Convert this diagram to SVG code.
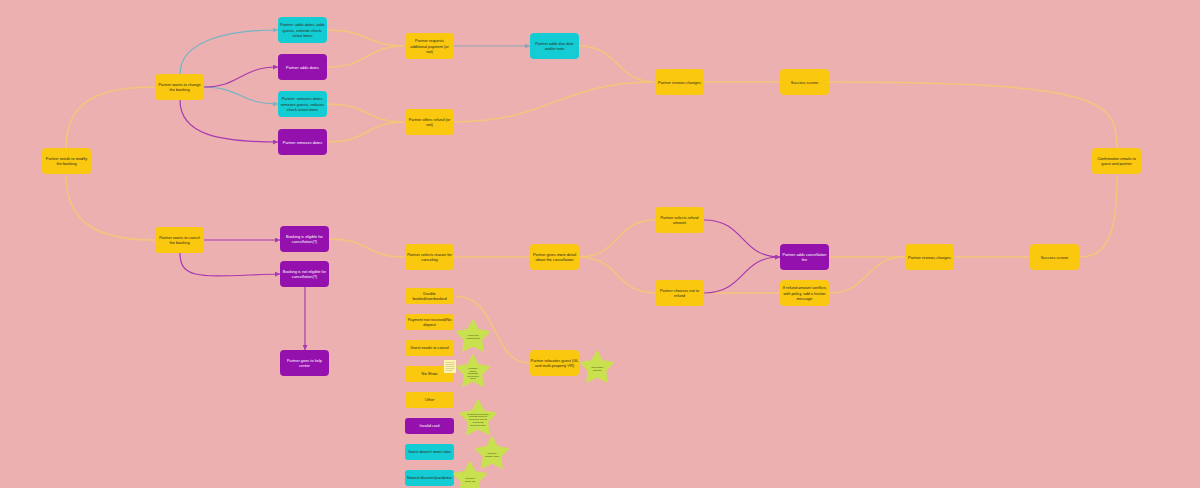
<svg xmlns="http://www.w3.org/2000/svg" width="1200" height="488" viewBox="0 0 1200 488">
  <defs>
    <style>
      .bg { fill: #EDB0B0; }
      .y rect { fill: #F9C80F; }
      .c rect { fill: #14CCD3; }
      .p rect { fill: #9511AD; }
      text { font-family: "Liberation Sans", Arial, sans-serif; font-size: 3.9px; text-anchor: middle; fill: #2a2a1a; }
      .p text { fill: #ffffff; }
      .lst text { font-size: 3.9px; }
      .st text { font-size: 2.3px; fill: #3a4a10; }
      .ly { fill: none; stroke: #F5C57A; stroke-width: 1.5; }
      .lt { fill: none; stroke: #72B4C4; stroke-width: 1.2; marker-end: url(#aT); }
      .lp { fill: none; stroke: #A53AB2; stroke-width: 1.2; marker-end: url(#aP); }
      .lg { fill: none; stroke: #8CA3BA; stroke-width: 1.2; marker-end: url(#aG); }
      .star { fill: #C9E04F; }
    </style>
    <marker id="aT" markerUnits="userSpaceOnUse" markerWidth="5" markerHeight="5" refX="5" refY="2.5" orient="auto"><path d="M0,0 L5,2.5 L0,5 z" fill="#72B4C4"/></marker>
    <marker id="aP" markerUnits="userSpaceOnUse" markerWidth="5" markerHeight="5" refX="5" refY="2.5" orient="auto"><path d="M0,0 L5,2.5 L0,5 z" fill="#A53AB2"/></marker>
    <marker id="aG" markerUnits="userSpaceOnUse" markerWidth="5" markerHeight="5" refX="5" refY="2.5" orient="auto"><path d="M0,0 L5,2.5 L0,5 z" fill="#8CA3BA"/></marker>
    <!-- five-point star, centred on the origin -->
    <path id="star" d="M0,-17 L5.2,-7.2 L16.17,-5.25 L8.4,2.7 L9.99,13.75 L0,8.8 L-9.99,13.75 L-8.4,2.7 L-16.17,-5.25 L-5.2,-7.2 Z" stroke="#C9E04F" stroke-width="1.5" stroke-linejoin="round"/>
  </defs>

  <rect class="bg" x="0" y="0" width="1200" height="488"/>

  <!-- connectors -->
  <g id="connectors">
    <path class="ly" d="M66,148 C66,100 100,87 155,87"/>
    <path class="ly" d="M66,175 C66,225 100,240 155,240"/>
    <path class="ly" d="M327,30 C370,30 365,46 405,46"/>
    <path class="ly" d="M327,67 C370,67 365,46 405,46"/>
    <path class="ly" d="M327,104 C370,104 365,122 405,122"/>
    <path class="ly" d="M327,142 C370,142 365,122 405,122"/>
    <path class="ly" d="M579,46 C620,46 615,82 655,82"/>
    <path class="ly" d="M454,122 C550,122 560,82 655,82"/>
    <path class="ly" d="M704,82 L780,82"/>
    <path class="ly" d="M829,82 C1100,82 1117,100 1117,148"/>
    <path class="ly" d="M1079,257 C1105,257 1117,240 1117,175"/>
    <path class="ly" d="M329,239 C370,239 365,257 405,257"/>
    <path class="ly" d="M454,257 L530,257"/>
    <path class="ly" d="M579,257 C620,257 615,220 655,220"/>
    <path class="ly" d="M579,257 C620,257 615,293 655,293"/>
    <path class="ly" d="M704,293 L780,293"/>
    <path class="ly" d="M829,257 L905,257"/>
    <path class="ly" d="M829,293 C870,293 865,257 905,257"/>
    <path class="ly" d="M954,257 L1030,257"/>
    <path class="ly" d="M454,296 C500,296 490,363 530,363"/>

    <path class="lt" d="M180,74 C180,40 230,30 278,30"/>
    <path class="lt" d="M204,87 C240,87 240,104 278,104"/>
    <path class="lp" d="M204,87 C240,87 240,67 278,67"/>
    <path class="lp" d="M180,100 C180,135 220,142 278,142"/>
    <path class="lp" d="M204,240 L280,240"/>
    <path class="lp" d="M180,253 C180,282 205,276 280,274"/>
    <path class="lp" d="M305,287 L305,350"/>
    <path class="lp" d="M704,220 C745,220 740,257 780,257"/>
    <path class="lp" d="M704,293 C745,293 740,257 780,257"/>
    <path class="lg" d="M454,46 L530,46"/>
  </g>

  <!-- modify branch -->
  <g id="n-modify" class="y"><rect x="42" y="148" width="49" height="26" rx="4"/><text x="66.5" y="159.9">Partner needs to modify</text><text x="66.5" y="165.1">the booking</text></g>
  <g id="n-change" class="y"><rect x="155" y="74" width="49" height="26" rx="4"/><text x="179.5" y="85.9">Partner wants to change</text><text x="179.5" y="91.1">the booking</text></g>
  <g id="n-cancel" class="y"><rect x="155" y="227" width="49" height="26" rx="4"/><text x="179.5" y="238.9">Partner wants to cancel</text><text x="179.5" y="244.1">the booking</text></g>

  <g id="n-add-all" class="c"><rect x="278" y="17" width="49" height="26" rx="4"/><text x="302.5" y="26.3">Partner: adds dates, adds</text><text x="302.5" y="31.5">guests, extends check-</text><text x="302.5" y="36.7">in/out times</text></g>
  <g id="n-add-dates" class="p"><rect x="278" y="54" width="49" height="26" rx="4"/><text x="302.5" y="68.5">Partner adds dates</text></g>
  <g id="n-remove-all" class="c"><rect x="278" y="91" width="49" height="26" rx="4"/><text x="302.5" y="100.3">Partner: removes dates,</text><text x="302.5" y="105.5">removes guests, reduces</text><text x="302.5" y="110.7">check-in/out times</text></g>
  <g id="n-remove-dates" class="p"><rect x="278" y="129" width="49" height="26" rx="4"/><text x="302.5" y="143.5">Partner removes dates</text></g>

  <g id="n-request-pay" class="y"><rect x="405" y="33" width="49" height="26" rx="4"/><text x="429.5" y="42.3">Partner requests</text><text x="429.5" y="47.5">additional payment (or</text><text x="429.5" y="52.7">not)</text></g>
  <g id="n-offer-refund" class="y"><rect x="405" y="109" width="49" height="26" rx="4"/><text x="429.5" y="120.9">Partner offers refund (or</text><text x="429.5" y="126.1">not)</text></g>
  <g id="n-due-date" class="c"><rect x="530" y="33" width="49" height="26" rx="4"/><text x="554.5" y="44.9">Partner adds due date</text><text x="554.5" y="50.1">and/or note</text></g>
  <g id="n-review-1" class="y"><rect x="655" y="69" width="49" height="26" rx="4"/><text x="679.5" y="83.5">Partner reviews changes</text></g>
  <g id="n-success-1" class="y"><rect x="780" y="69" width="49" height="26" rx="4"/><text x="804.5" y="83.5">Success screen</text></g>
  <g id="n-confirm" class="y"><rect x="1092" y="148" width="49" height="26" rx="4"/><text x="1116.5" y="159.9">Confirmation emails to</text><text x="1116.5" y="165.1">guest and partner</text></g>

  <!-- cancel branch -->
  <g id="n-eligible" class="p"><rect x="280" y="226" width="49" height="26" rx="4"/><text x="304.5" y="237.9">Booking is eligible for</text><text x="304.5" y="243.1">cancellation(?)</text></g>
  <g id="n-not-eligible" class="p"><rect x="280" y="261" width="49" height="26" rx="4"/><text x="304.5" y="272.9">Booking is not eligible for</text><text x="304.5" y="278.1">cancellation(?)</text></g>
  <g id="n-help" class="p"><rect x="280" y="350" width="49" height="26" rx="4"/><text x="304.5" y="361.9">Partner goes to help</text><text x="304.5" y="367.1">center</text></g>

  <g id="n-reason" class="y"><rect x="405" y="244" width="49" height="26" rx="4"/><text x="429.5" y="255.9">Partner selects reason for</text><text x="429.5" y="261.1">canceling</text></g>
  <g id="n-detail" class="y"><rect x="530" y="244" width="49" height="26" rx="4"/><text x="554.5" y="255.9">Partner gives more detail</text><text x="554.5" y="261.1">about the cancellation</text></g>
  <g id="n-refund-amount" class="y"><rect x="655" y="207" width="49" height="26" rx="4"/><text x="679.5" y="218.9">Partner selects refund</text><text x="679.5" y="224.1">amount</text></g>
  <g id="n-no-refund" class="y"><rect x="655" y="280" width="49" height="26" rx="4"/><text x="679.5" y="291.9">Partner chooses not to</text><text x="679.5" y="297.1">refund</text></g>
  <g id="n-fee" class="p"><rect x="780" y="244" width="49" height="26" rx="4"/><text x="804.5" y="255.9">Partner adds cancellation</text><text x="804.5" y="261.1">fee</text></g>
  <g id="n-friction" class="y"><rect x="780" y="280" width="49" height="26" rx="4"/><text x="804.5" y="289.3">If refund amount conflicts</text><text x="804.5" y="294.5">with policy, add a friction</text><text x="804.5" y="299.7">message</text></g>
  <g id="n-review-2" class="y"><rect x="905" y="244" width="49" height="26" rx="4"/><text x="929.5" y="258.5">Partner reviews changes</text></g>
  <g id="n-success-2" class="y"><rect x="1030" y="244" width="49" height="26" rx="4"/><text x="1054.5" y="258.5">Success screen</text></g>

  <!-- cancellation reasons -->
  <g id="r-double" class="y lst"><rect x="405" y="288" width="49" height="16" rx="3"/><text x="429.5" y="294.9">Double</text><text x="429.5" y="300.1">booked/overbooked</text></g>
  <g id="r-payment" class="y lst"><rect x="405" y="314" width="49" height="16" rx="3"/><text x="429.5" y="320.9">Payment not received/No</text><text x="429.5" y="326.1">deposit</text></g>
  <g id="r-guest-cancel" class="y lst"><rect x="405" y="340" width="49" height="16" rx="3"/><text x="429.5" y="349.4">Guest needs to cancel</text></g>
  <g id="r-noshow" class="y lst"><rect x="405" y="366" width="49" height="16" rx="3"/><text x="429.5" y="375.4">No Show</text></g>
  <g id="r-other" class="y lst"><rect x="405" y="392" width="49" height="16" rx="3"/><text x="429.5" y="401.4">Other</text></g>
  <g id="r-invalid" class="p lst"><rect x="405" y="418" width="49" height="16" rx="3"/><text x="429.5" y="427.4">Invalid card</text></g>
  <g id="r-rules" class="c lst"><rect x="405" y="444" width="49" height="16" rx="3"/><text x="429.5" y="453.4">Guest doesn't meet rules</text></g>
  <g id="r-disaster" class="c lst"><rect x="405" y="470" width="49" height="16" rx="3"/><text x="429.5" y="479.4">Natural disaster/pandemic</text></g>

  <g id="n-relocate" class="y"><rect x="530" y="350" width="49" height="26" rx="4"/><text x="554.5" y="361.9">Partner relocates guest (GL</text><text x="554.5" y="367.1">and multi-property VR)</text></g>

  <!-- notes -->
  <g id="note" transform="translate(444,360)">
    <rect width="12" height="13" fill="#FFF4B0"/>
    <g fill="#b9ad70"><rect x="1.5" y="2" width="9" height="0.5"/><rect x="1.5" y="4" width="9" height="0.5"/><rect x="1.5" y="6" width="9" height="0.5"/><rect x="1.5" y="8" width="9" height="0.5"/><rect x="1.5" y="10" width="7" height="0.5"/></g>
  </g>
  <g id="star-1" class="st" transform="translate(473,337)"><use href="#star" class="star"/><text x="0" y="-1">Fraud and</text><text x="0" y="1.8">Management</text></g>
  <g id="star-2" class="st" transform="translate(473,372)"><use href="#star" class="star"/><text x="0" y="-3">Upgrade</text><text x="0" y="-0.4">liability</text><text x="0" y="2.2">adjustable</text><text x="0" y="4.8">payment to</text><text x="0" y="7.4">waive</text></g>
  <g id="star-3" class="st" transform="translate(478,419) scale(1.1)"><use href="#star" class="star"/><text x="0" y="-4">Unauthorized/fraud,</text><text x="0" y="-1.4">refunds guest to</text><text x="0" y="1.2">rebooked CC (to</text><text x="0" y="3.8">reprocess</text><text x="0" y="6.4">payment later)</text></g>
  <g id="star-4" class="st" transform="translate(492,454)"><use href="#star" class="star"/><text x="0" y="0">Potential</text><text x="0" y="2.6">loophole issue</text></g>
  <g id="star-5" class="st" transform="translate(470,479)"><use href="#star" class="star"/><text x="0" y="0">Potential</text><text x="0" y="2.6">abuse risk</text></g>
  <g id="star-6" class="st" transform="translate(597,368)"><use href="#star" class="star"/><text x="0" y="0">High impact</text><text x="0" y="2.6">changes</text></g>
</svg>
